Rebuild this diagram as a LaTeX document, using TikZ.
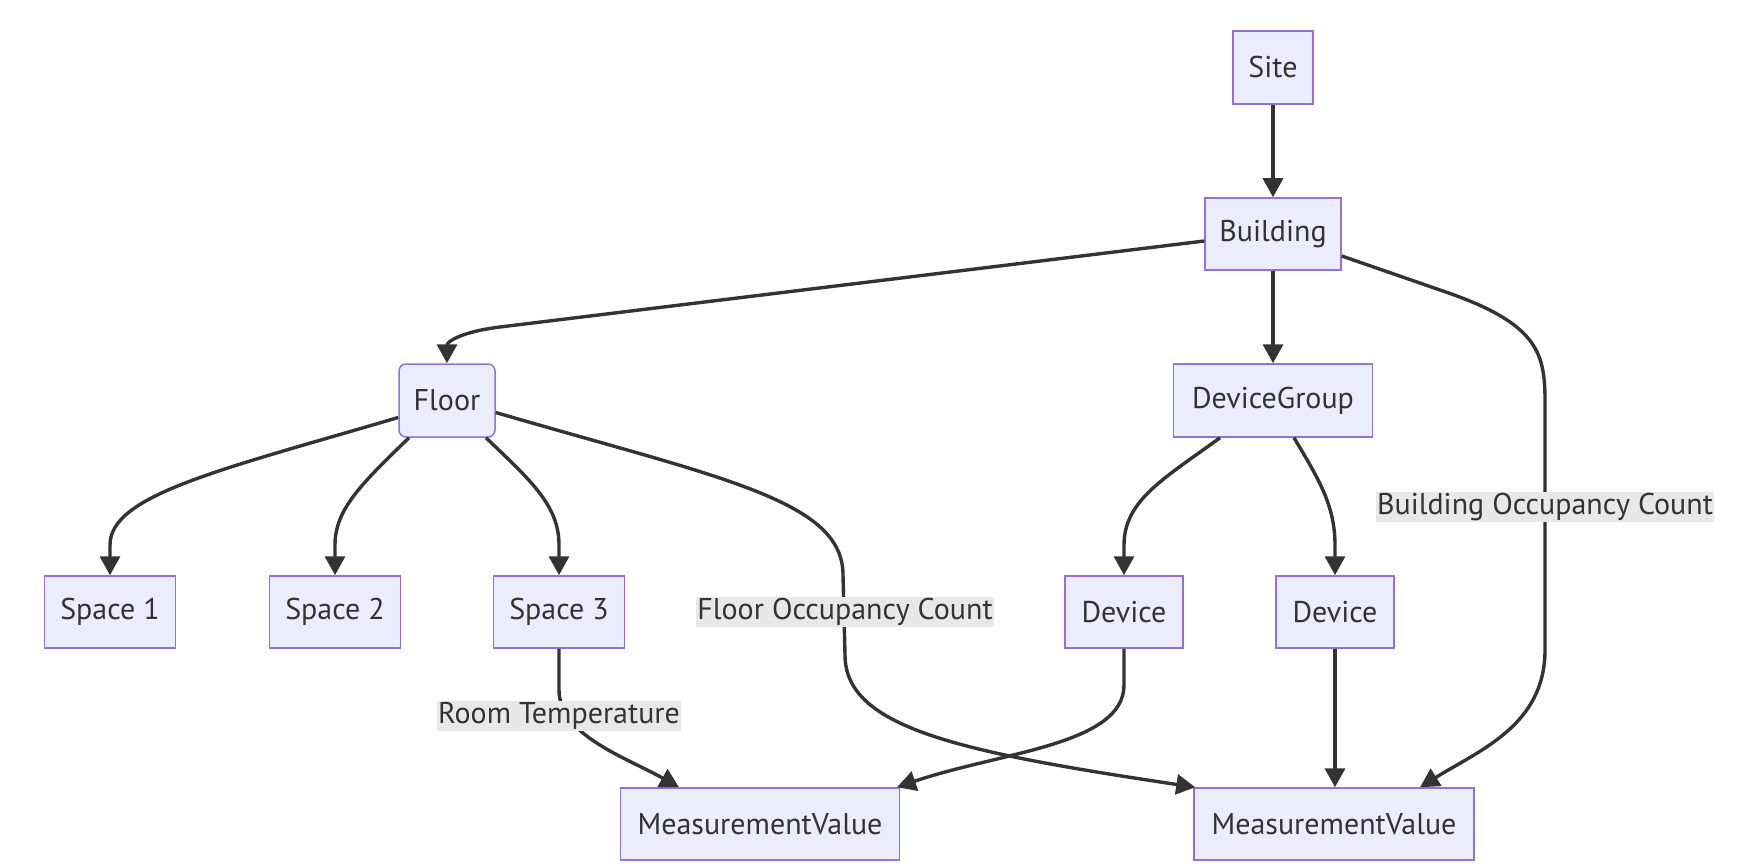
\documentclass[tikz,border=0pt]{standalone}
\usepackage{fontspec}
\setmainfont{PT Sans}
\usetikzlibrary{arrows.meta}
\definecolor{nodefill}{HTML}{ECECFF}
\definecolor{nodeline}{HTML}{9370DB}
\definecolor{edge}{HTML}{333333}
\definecolor{lblbg}{HTML}{E8E8E8}
\begin{document}
\begin{tikzpicture}[x=1pt,y=-1pt,
  box/.style={draw=nodeline,fill=nodefill,line width=1.5pt,minimum height=72pt,inner sep=0pt,text=edge,font=\fontsize{30}{34}\selectfont},
  rbox/.style={box,rounded corners=7pt},
  conn/.style={draw=edge,line width=3.4pt,-{Triangle[length=19pt,width=20pt]}},
  lbl/.style={fill=lblbg,text=edge,inner sep=1.5pt,font=\fontsize{30}{34}\selectfont}
]
\useasboundingbox (0,0) rectangle (1739,866);
\node[box,minimum width=80pt,minimum height=73pt] (site) at (1273,67.5) {Site};
\node[box,minimum width=136pt] (bld) at (1273,234) {Building};
\node[rbox,minimum width=96pt,minimum height=73pt] (floor) at (447,400.5) {Floor};
\node[box,minimum width=199pt,minimum height=73pt] (dg) at (1273,400.5) {DeviceGroup};
\node[box,minimum width=131pt] (s1) at (110,612) {Space 1};
\node[box,minimum width=131pt] (s2) at (335,612) {Space 2};
\node[box,minimum width=131pt] (s3) at (559,612) {Space 3};
\node[box,minimum width=118pt] (d1) at (1124,612) {Device};
\node[box,minimum width=118pt] (d2) at (1335,612) {Device};
\node[box,minimum width=279pt] (mv1) at (760,824) {MeasurementValue};
\node[box,minimum width=280pt] (mv2) at (1334,824) {MeasurementValue};

\draw[conn] (site) -- (bld);
\draw[conn] (bld) -- (dg);
\draw[conn] (d2) -- (mv2.north -| d2);
\draw[conn] ([yshift=-7pt]bld.west) -- (500,327) .. controls (460,332) and (447,342) .. (floor.north);
\draw[conn] ([yshift=-17pt]floor.west) .. controls (220,470) and (110,495) .. (110,545) -- (s1.north);
\draw[conn] ([xshift=-38pt]floor.south) .. controls (360,485) and (335,510) .. (335,545) -- (s2.north);
\draw[conn] ([xshift=39pt]floor.south) .. controls (530,480) and (559,505) .. (559,545) -- (s3.north);
\draw[conn] ([xshift=-53pt]dg.south) .. controls (1165,478) and (1124,500) .. (1124,545) -- (d1.north);
\draw[conn] ([xshift=21pt]dg.south) .. controls (1318,478) and (1335,505) .. (1335,545) -- (d2.north);
\draw[conn] ([yshift=-12pt]floor.east) .. controls (720,478) and (843,500) .. (843,575) -- (845,655) .. controls (845,728) and (960,752) .. ([xshift=2pt]mv2.north west);
\draw[conn] (s3.south) -- (559,690) .. controls (559,735) and (625,757) .. ([xshift=-81pt]mv1.north);
\draw[conn] (d1.south) -- (1124,685) .. controls (1124,745) and (1000,752) .. ([xshift=137pt]mv1.north);
\draw[conn] ([yshift=-22pt]bld.east) -- (1440,290) .. controls (1535,322) and (1545,350) .. (1545,400) -- (1545,650) .. controls (1545,725) and (1480,750) .. ([xshift=86pt]mv2.north);

\node[lbl] (l1) at (845,612) {Floor Occupancy Count};
\node[lbl] (l2) at (1545,507) {Building Occupancy Count};
\node[lbl] (l3) at (559,716) {Room Temperature};
\end{tikzpicture}
\end{document}
